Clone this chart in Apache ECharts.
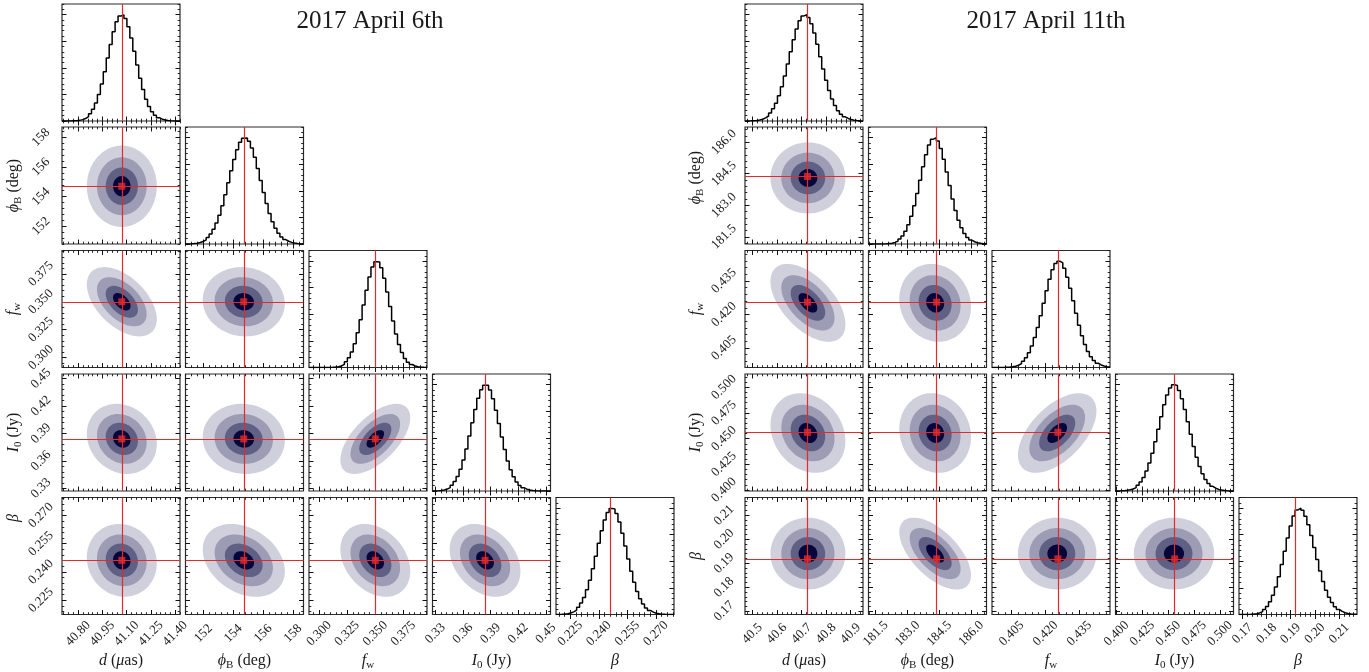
<!DOCTYPE html>
<html><head><meta charset="utf-8">
<script src="https://cdn.jsdelivr.net/npm/echarts@6/dist/echarts.min.js"></script>
<style>html,body{margin:0;padding:0;background:#fff}#c{width:1369px;height:672px}</style>
</head><body><div id="c"></div>
<script>
// ------------------------- DATA -------------------------
const histBins = 40;
const contourLevels = [1.0, 0.71, 0.46, 0.25];          // fraction of outer contour extent
const contourColors = ['#d0d0dd', '#9c9cb4', '#606085', '#05053a'];

// ---- 2017 April 6th ----
const apr6Title = '2017 April 6th';
const apr6Min = [40.70, 150.8, 0.291, 0.327, 0.2175];
const apr6Max = [41.43, 158.7, 0.396, 0.455, 0.2795];
const apr6Truth = [41.07, 154.7, 0.350, 0.384, 0.2462];
const apr6Mean = [41.07, 154.7, 0.350, 0.384, 0.2462];
const apr6Spread = [0.2165, 2.75, 0.0311, 0.0384, 0.0193];
const apr6Rho = [[], [0.0], [-0.5, -0.05], [-0.15, -0.05, 0.6], [-0.08, -0.3, -0.3, -0.3]];
const apr6TickD = ['40.80', '40.95', '41.10', '41.25', '41.40'];
const apr6TickPhiB = ['152', '154', '156', '158'];
const apr6TickFw = ['0.300', '0.325', '0.350', '0.375'];
const apr6TickI0 = ['0.33', '0.36', '0.39', '0.42', '0.45'];
const apr6TickBeta = ['0.225', '0.240', '0.255', '0.270'];
const apr6Minor = [0.03, 0.4, 0.005, 0.006, 0.003];
const apr6HistD = [0,0,0.1,0.2,0.3, 0.6,1.3,2.3,4.1,6.9, 11.0,17.0,24.9,34.9,46.4, 59.3,72.0,84.0,93.2,98.7, 99.8,96.4,88.7,78.1,65.6, 52.7,40.2,29.6,20.5,13.6, 8.7,5.3,3.1,1.7,0.9, 0.5,0.2,0.1,0,0];
const apr6HistPhiB = [0.1,0.2,0.4,0.8,1.4, 2.3,3.8,6.0,9.3,13.8, 19.7,27.1,36.0,46.3,57.6, 68.8,79.5,88.7,95.6,99.4, 99.7,96.6,90.3,81.5,71.0, 59.7,48.5,38.0,28.7,20.9, 14.8,10.1,6.6,4.2,2.6, 1.5,0.9,0.5,0.25,0.1];
const apr6HistFw = [0,0,0,0,0, 0,0.1,0.2,0.4,0.8, 1.5,2.9,5.3,9.1,14.6, 22.4,32.6,45.0,58.7,72.6, 85.1,94.5,99.5,99.2,93.7, 83.9,71.1,57.3,43.7,31.5, 21.6,14.0,8.5,5.0,2.8, 1.4,0.7,0.3,0.15,0.06];
const apr6HistI0 = [0.1,0.25,0.5,1.0,1.8, 3.2,5.5,8.9,13.7,20.4, 29.1,39.6,51.6,64.2,76.6, 87.3,95.3,99.5,99.4,95.0, 86.8,75.9,63.5,50.8,38.9, 28.3,19.9,13.3,8.5,5.2, 3.1,1.7,0.9,0.5,0.2, 0.1,0,0,0,0];
const apr6HistBeta = [0.1,0.2,0.4,0.7,1.4, 2.5,4.2,6.8,10.8,16.1, 23.3,32.3,42.9,54.7,67.0, 78.7,88.8,96.0,99.7,99.3, 94.9,87.0,76.5,64.5,52.2, 40.7,30.3,21.7,14.9,9.8, 6.2,3.8,2.2,1.2,0.65, 0.3,0.16,0.08,0,0];

// ---- 2017 April 11th ----
const apr11Title = '2017 April 11th';
const apr11Min = [40.47, 181.16, 0.3963, 0.399, 0.1686];
const apr11Max = [40.95, 186.72, 0.4486, 0.513, 0.2174];
const apr11Truth = [40.724, 184.37, 0.4255, 0.4562, 0.1918];
const apr11Mean = [40.726, 184.3, 0.4252, 0.4555, 0.194];
const apr11Spread = [0.1525, 1.69, 0.0174, 0.0388, 0.0150];
const apr11Rho = [[], [0.0], [-0.55, -0.1], [-0.2, -0.1, 0.55], [0.0, -0.6, 0.0, 0.0]];
const apr11TickD = ['40.5', '40.6', '40.7', '40.8', '40.9'];
const apr11TickPhiB = ['181.5', '183.0', '184.5', '186.0'];
const apr11TickFw = ['0.405', '0.420', '0.435'];
const apr11TickI0 = ['0.400', '0.425', '0.450', '0.475', '0.500'];
const apr11TickBeta = ['0.17', '0.18', '0.19', '0.20', '0.21'];
const apr11Minor = [0.02, 0.3, 0.003, 0.005, 0.002];
const apr11HistD = [0.07,0.14,0.3,0.5,1.0, 1.7,2.9,4.7,7.6,11.5, 16.8,23.7,32.3,42.4,53.6, 65.2,76.5,86.4,94.2,98.8, 99.9,97.4,91.4,82.7,72.1, 60.5,49.0,38.2,28.7,20.8, 14.5,9.7,6.3,3.9,2.4, 1.4,0.8,0.4,0.2,0.1];
const apr11HistPhiB = [0,0,0.02,0.04,0.09, 0.2,0.4,0.8,1.5,2.7, 4.6,7.6,11.9,18.0,26.0, 35.9,47.5,60.0,72.6,84.0, 93.1,98.6,99.9,96.9,89.8, 79.7,67.7,54.9,42.4,31.5, 22.4,15.2,9.9,6.2,3.7, 2.1,1.1,0.6,0.3,0.14];
const apr11HistFw = [0,0,0.04,0.09,0.2, 0.3,0.65,1.2,2.1,3.6, 5.9,9.2,13.8,20.1,28.1, 37.6,48.6,60.4,72.2,83.0, 91.8,97.7,100,98.4,93.2, 84.9,74.5,62.8,50.9,39.7, 29.8,21.6,15.0,10.0,6.5, 4.0,2.4,1.4,0.75,0.4];
const apr11HistI0 = [0.07,0.15,0.3,0.6,1.1, 1.9,3.2,5.3,8.5,12.8, 18.7,26.3,35.6,46.3,58.0, 69.9,81.0,90.2,96.8,99.8, 99.1,94.5,86.8,76.6,65.2, 53.3,41.9,31.7,23.1,16.2, 10.9,7.1,4.4,2.6,1.5, 0.85,0.45,0.2,0.1,0.05];
const apr11HistBeta = [0,0.04,0.1,0.2,0.4, 0.8,1.5,2.7,4.6,7.6, 11.9,18.0,25.8,35.5,47.0, 59.4,71.9,83.3,92.5,98.3, 100,97.9,92.4,84.3,74.2, 63.0,51.6,40.8,31.1,22.8, 16.2,11.2,7.4,4.7,2.9, 1.7,1.0,0.55,0.3,0.15];

// histogram vertical axis (relative counts)
const histYMax = 110;
const histYMajor = [0, 25, 50, 75, 100];
const histYMinorStep = 5;

// ------------------------- LAYOUT / STYLE -------------------------
const SERIF = '"Liberation Serif", "DejaVu Serif", serif';
const PW = 118, PH = 117;
const rowTops = [4, 127, 250.5, 374, 497.5];
const colLeftsA = [62, 185.5, 309, 432.5, 556];
const colLeftsB = [745, 868.5, 992, 1115.5, 1239];
const RED = '#e32a2a';
const INK = '#1a1a1a';

const nameRich = {
  it: {fontFamily: SERIF, fontStyle: 'italic', fontSize: 16, color: INK, lineHeight: 20, verticalAlign: 'middle'},
  rm: {fontFamily: SERIF, fontSize: 16, color: INK, lineHeight: 20, verticalAlign: 'middle'},
  sub: {fontFamily: SERIF, fontSize: 11, color: INK, lineHeight: 11, verticalAlign: 'bottom'}
};
const paramNames = [
  '{it|d} {rm|(}{it|μ}{rm|as)}',
  '{it|ϕ}{sub|B} {rm|(deg)}',
  '{it|f}{sub|w}',
  '{it|I}{sub|0} {rm|(Jy)}',
  '{it|β}'
];

const grids = [], xAxes = [], yAxes = [], series = [], graphics = [];

function makeTicks(min, max, step) {
  const out = [];
  let k = Math.ceil(min / step - 1e-9);
  while (k * step <= max + 1e-12) { out.push(+(k * step).toFixed(6)); k++; }
  return out;
}

function addAxes(list, gi, isX, min, max, majors, minors, labelStrs, name, namePadUp) {
  const base = list.length;
  const posA = isX ? 'bottom' : 'left', posB = isX ? 'top' : 'right';
  const fmt = {};
  if (labelStrs) labelStrs.forEach(s => { fmt[(+s).toFixed(6)] = s; });
  const common = {type: 'value', gridIndex: gi, min: min, max: max, axisLine: {show: false},
    splitLine: {show: false}, minorTick: {show: false}, silent: true};
  const majTick = {show: true, inside: true, length: 4.5, lineStyle: {color: '#111', width: 1}, customValues: majors};
  const minTick = {show: true, inside: true, length: 2.3, lineStyle: {color: '#111', width: 0.9}, customValues: minors};
  const a = Object.assign({}, common, {position: posA, axisTick: majTick,
    axisLabel: labelStrs ? {show: true, customValues: majors, formatter: v => fmt[(+v).toFixed(6)] || '',
      rotate: 45, align: 'center', verticalAlign: 'middle', margin: isX ? 19 : 21,
      fontFamily: SERIF, fontSize: 13, color: INK} : {show: false}});
  if (name) {
    a.name = name; a.nameLocation = 'middle'; a.nameGap = isX ? 36 : 38;
    a.nameTextStyle = {rich: nameRich, fontFamily: SERIF, fontSize: 16, color: INK};
    if (namePadUp) a.nameTextStyle.padding = [0, 0, 0, 2 * namePadUp];
  }
  list.push(a);
  list.push(Object.assign({}, common, {position: posB, axisTick: majTick, axisLabel: {show: false}}));
  list.push(Object.assign({}, common, {position: posA, axisTick: minTick, axisLabel: {show: false}}));
  list.push(Object.assign({}, common, {position: posB, axisTick: minTick, axisLabel: {show: false}}));
  return base;
}

const truthLineStyle = {color: RED, width: 1.2, type: 'solid', opacity: 1};
function truthMarkLine(items) {
  return {silent: true, symbol: ['none', 'none'], precision: 8, label: {show: false}, animation: false,
    lineStyle: truthLineStyle, emphasis: {disabled: true},
    data: items.map(it => Object.assign({}, it, {lineStyle: truthLineStyle}))};
}

function buildCorner(cfg) {
  for (let i = 0; i < 5; i++) {
    for (let j = 0; j <= i; j++) {
      const gi = grids.length;
      grids.push({left: cfg.cols[j], top: rowTops[i], width: PW, height: PH, show: true,
        borderColor: '#2a2a2a', borderWidth: 1.2, backgroundColor: 'transparent', containLabel: false});
      const bottomRow = (i === 4);
      const xi = addAxes(xAxes, gi, true, cfg.min[j], cfg.max[j],
        cfg.ticks[j].map(Number), makeTicks(cfg.min[j], cfg.max[j], cfg.minor[j]),
        bottomRow ? cfg.ticks[j] : null, bottomRow ? paramNames[j] : null, 0);
      let yi;
      if (i === j) {
        yi = addAxes(yAxes, gi, false, 0, histYMax, histYMajor, makeTicks(0, histYMax, histYMinorStep), null, null, 0);
        const h = cfg.hist[j];
        const data = [];
        for (let k = 0; k <= histBins; k++) {
          const e = cfg.min[j] + (cfg.max[j] - cfg.min[j]) * k / histBins;
          data.push([e, h[Math.min(k, histBins - 1)]]);
        }
        series.push({type: 'line', step: 'end', xAxisIndex: xi, yAxisIndex: yi, data: data,
          symbol: 'none', showSymbol: false, lineStyle: {color: '#000', width: 1.5}, z: 3, silent: true,
          markLine: truthMarkLine([{xAxis: cfg.truth[j]}])});
      } else {
        const leftCol = (j === 0);
        yi = addAxes(yAxes, gi, false, cfg.min[i], cfg.max[i],
          cfg.ticks[i].map(Number), makeTicks(cfg.min[i], cfg.max[i], cfg.minor[i]),
          leftCol ? cfg.ticks[i] : null, leftCol ? paramNames[i] : null, leftCol ? (cfg.yNameUp[i] || 0) : 0);
        const mx = cfg.mean[j], my = cfg.mean[i];
        const sx = cfg.spread[j], sy = cfg.spread[i];
        const rho = cfg.rho[i][j];
        series.push({type: 'custom', xAxisIndex: xi, yAxisIndex: yi, silent: true, z: 2,
          data: contourLevels.map(r => [mx, my, r]),
          encode: {x: 0, y: 1},
          renderItem: function (params, api) {
            const r = api.value(2);
            const pts = [];
            const n = 90;
            for (let t = 0; t < n; t++) {
              const a = t / n * 2 * Math.PI;
              const x = mx + r * sx * Math.cos(a);
              const y = my + r * sy * (rho * Math.cos(a) + Math.sqrt(1 - rho * rho) * Math.sin(a));
              pts.push(api.coord([x, y]));
            }
            return {type: 'polygon', shape: {points: pts}, style: {fill: contourColors[params.dataIndex]}};
          }});
        series.push({type: 'scatter', xAxisIndex: xi, yAxisIndex: yi, silent: true, z: 5,
          data: [[cfg.truth[j], cfg.truth[i]]], symbol: 'rect', symbolSize: 7,
          itemStyle: {color: RED},
          markLine: truthMarkLine([{xAxis: cfg.truth[j]}, {yAxis: cfg.truth[i]}])});
      }
    }
  }
  graphics.push({type: 'text', x: cfg.titleX, y: 9, silent: true,
    style: {text: cfg.title, font: '25px ' + SERIF, fill: INK, align: 'center', verticalAlign: 'top'}});
}

buildCorner({cols: colLeftsA, min: apr6Min, max: apr6Max, truth: apr6Truth, mean: apr6Mean,
  spread: apr6Spread, rho: apr6Rho, minor: apr6Minor, title: apr6Title, titleX: 370,
  yNameUp: [0, 0, 0, 0, 38],
  ticks: [apr6TickD, apr6TickPhiB, apr6TickFw, apr6TickI0, apr6TickBeta],
  hist: [apr6HistD, apr6HistPhiB, apr6HistFw, apr6HistI0, apr6HistBeta]});
buildCorner({cols: colLeftsB, min: apr11Min, max: apr11Max, truth: apr11Truth, mean: apr11Mean,
  spread: apr11Spread, rho: apr11Rho, minor: apr11Minor, title: apr11Title, titleX: 1046,
  yNameUp: [0, 8, 0, 0, 0],
  ticks: [apr11TickD, apr11TickPhiB, apr11TickFw, apr11TickI0, apr11TickBeta],
  hist: [apr11HistD, apr11HistPhiB, apr11HistFw, apr11HistI0, apr11HistBeta]});

const chart = echarts.init(document.getElementById('c'), null, {renderer: 'canvas'});
chart.setOption({
  animation: false,
  backgroundColor: '#fff',
  grid: grids, xAxis: xAxes, yAxis: yAxes, series: series, graphic: graphics
});
</script>
</body></html>
